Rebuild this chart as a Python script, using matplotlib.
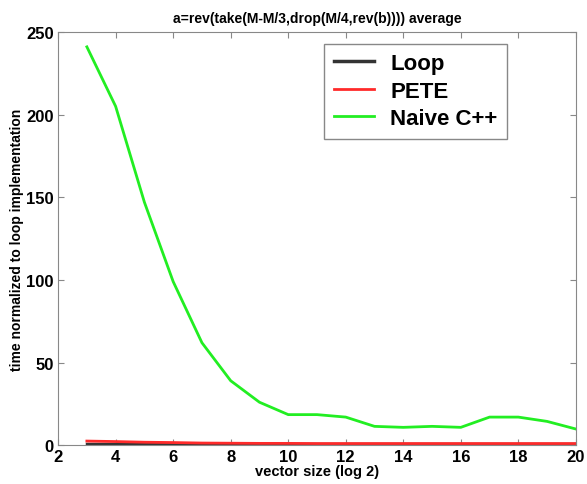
import matplotlib
matplotlib.use("Agg")
import matplotlib.pyplot as plt

plt.rcParams["font.family"] = ["Liberation Sans", "DejaVu Sans"]

x = [3, 4, 5, 6, 7, 8, 9, 10, 11, 12, 13, 14, 15, 16, 17, 18, 19, 20]
loop = [1.0] * 18
pete = [2.5, 2.2, 1.8, 1.6, 1.3, 1.2, 1.1, 1.1, 1.0, 1.0, 1.0, 1.0, 1.0, 1.0, 1.0, 1.0, 1.0, 1.0]
naive = [241, 205, 147, 99, 62, 39, 26, 18.5, 18.5, 17, 11.4, 10.8, 11.4, 10.8, 17, 17, 14.4, 9.8]

xticks = [2, 4, 6, 8, 10, 12, 14, 16, 18, 20]
yticks = [0, 50, 100, 150, 200, 250]

fig = plt.figure(figsize=(5.87, 4.85), dpi=100)
ax = fig.add_axes([0.099, 0.080, 0.882, 0.852])
ax.plot(x, loop, color="#333333", lw=2.5, label="Loop")
ax.plot(x, pete, color="#ff2a2a", lw=2.0, label="PETE")
ax.plot(x, naive, color="#22ee22", lw=2.0, label="Naive C++")

ax.set_xlim(2, 20)
ax.set_ylim(0, 250)
ax.set_xticks(xticks)
ax.set_yticks(yticks)
ax.tick_params(direction="in", top=True, right=True, labelsize=12, length=4, color="#888888", pad=3)
for lbl in ax.get_xticklabels() + ax.get_yticklabels():
    lbl.set_fontweight("bold")
for s in ax.spines.values():
    s.set_color("#888888")

ax.set_title("a=rev(take(M-M/3,drop(M/4,rev(b)))) average", fontsize=10, fontweight="bold", pad=7)
ax.set_xlabel("vector size (log 2)", fontsize=10.5, fontweight="bold", labelpad=0)
ax.set_ylabel("time normalized to loop implementation", fontsize=10, fontweight="bold", labelpad=2)

leg = ax.legend(loc="upper left", bbox_to_anchor=(0.514, 0.972), borderaxespad=0,
                prop={"weight": "bold", "size": 16}, fancybox=False, framealpha=1,
                handlelength=1.8, borderpad=0.42, labelspacing=0.3, handletextpad=0.75)
leg.get_frame().set_edgecolor("#888888")

fig.savefig("out.png", dpi=100)
